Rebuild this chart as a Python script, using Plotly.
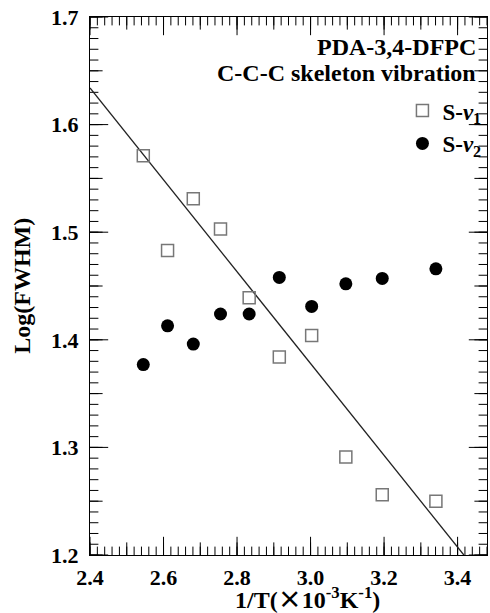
import numpy as np
import plotly.graph_objects as go

# Data
invT = [2.545, 2.611, 2.681, 2.755, 2.833, 2.915, 3.003, 3.096, 3.195, 3.341]
s_nu1 = [1.571, 1.483, 1.531, 1.503, 1.439, 1.384, 1.404, 1.291, 1.256, 1.250]
s_nu2 = [1.377, 1.413, 1.396, 1.424, 1.424, 1.458, 1.431, 1.452, 1.457, 1.466]
fit_x = [2.40, 3.417]
fit_y = [1.634, 1.200]

x_range = [2.4, 3.48]
y_range = [1.2, 1.7]

FONT = "Liberation Serif"

# tick-mark positions (major / medium / minor), derived from the axis spacing
def tick_positions(lo, hi, step):
    n = int(np.floor((hi - lo) / step + 1e-6))
    return [round(lo + i * step, 4) for i in range(n + 1)]

x_major = tick_positions(2.4, x_range[1], 0.2)
x_mid = tick_positions(2.4, x_range[1], 0.1)
x_minor = tick_positions(2.4, x_range[1], 0.02)
y_major = tick_positions(1.2, y_range[1], 0.1)
y_mid = tick_positions(1.2, y_range[1], 0.05)
y_minor = tick_positions(1.2, y_range[1], 0.01)

fig = go.Figure()

# inside tick marks on all four sides (markers centred on the frame, outer half clipped)
for vals, length in [(x_minor, 6), (x_mid, 9), (x_major, 13)]:
    fig.add_trace(go.Scatter(
        x=vals + vals, y=[y_range[0]] * len(vals) + [y_range[1]] * len(vals),
        mode="markers", cliponaxis=True, showlegend=False, hoverinfo="skip",
        marker=dict(symbol="line-ns", size=2 * length, line=dict(width=1, color="black"))))
for vals, length in [(y_minor, 6), (y_mid, 9), (y_major, 13)]:
    fig.add_trace(go.Scatter(
        y=vals + vals, x=[x_range[0]] * len(vals) + [x_range[1]] * len(vals),
        mode="markers", cliponaxis=True, showlegend=False, hoverinfo="skip",
        marker=dict(symbol="line-ew", size=2 * length, line=dict(width=1, color="black"))))

fig.add_trace(go.Scatter(x=fit_x, y=fit_y, mode="lines",
                         line=dict(color="#222222", width=1.3),
                         showlegend=False, hoverinfo="skip"))
fig.add_trace(go.Scatter(x=invT, y=s_nu1, mode="markers", name="S-<i>ν</i><sub>1</sub>",
                         legendgroup="a",
                         marker=dict(symbol="square-open", size=12, color="#777777",
                                     line=dict(width=1.5, color="#777777"))))
fig.add_trace(go.Scatter(x=invT, y=s_nu2, mode="markers", name="S-<i>ν</i><sub>2</sub>",
                         legendgroup="b",
                         marker=dict(symbol="circle", size=13, color="black")))

tickfont = dict(family=FONT, size=22, color="black", weight="bold")

fig.update_layout(
    width=490, height=613,
    margin=dict(l=90, r=3, t=17, b=58),
    plot_bgcolor="white", paper_bgcolor="white",
    font=dict(family=FONT, color="black"),
    xaxis=dict(range=x_range, showline=True, linecolor="black", linewidth=1, mirror=True,
               ticks="", tickvals=x_major, ticktext=[f"{v:.1f}" for v in x_major],
               tickfont=tickfont, ticklabelstandoff=3,
               showgrid=False, zeroline=False),
    yaxis=dict(range=y_range, showline=True, linecolor="black", linewidth=1, mirror=True,
               ticks="", tickvals=y_major, ticktext=[f"{v:.1f}" for v in y_major],
               tickfont=tickfont, ticklabelstandoff=6,
               showgrid=False, zeroline=False),
    legend=dict(x=0.787, y=0.866, xanchor="left", yanchor="top",
                bgcolor="rgba(0,0,0,0)", tracegroupgap=0,
                font=dict(family=FONT, size=23, color="black", weight="bold"),
                itemwidth=30),
    showlegend=True,
)

# axis titles
fig.add_annotation(text="1/T(<span style='font-family:Noto Sans CJK SC'>×</span>10<sup>-3</sup>K<sup>-1</sup>)",
                   x=0.549, y=-0.079, xref="paper", yref="paper",
                   xanchor="center", yanchor="middle", showarrow=False,
                   font=dict(family=FONT, size=24, color="black", weight="bold"))
fig.add_annotation(text="Log(FWHM)", textangle=-90,
                   x=-0.172, y=0.5, xref="paper", yref="paper",
                   xanchor="center", yanchor="middle", showarrow=False,
                   font=dict(family=FONT, size=24, color="black", weight="bold"))

# in-plot labels
fig.add_annotation(text="PDA-3,4-DFPC", x=0.978, y=0.944, xref="paper", yref="paper",
                   xanchor="right", yanchor="middle", showarrow=False,
                   font=dict(family=FONT, size=24, color="black", weight="bold"))
fig.add_annotation(text="C-C-C skeleton vibration", x=0.978, y=0.896, xref="paper", yref="paper",
                   xanchor="right", yanchor="middle", showarrow=False,
                   font=dict(family=FONT, size=24, color="black", weight="bold"))

fig.write_html("out.html")
